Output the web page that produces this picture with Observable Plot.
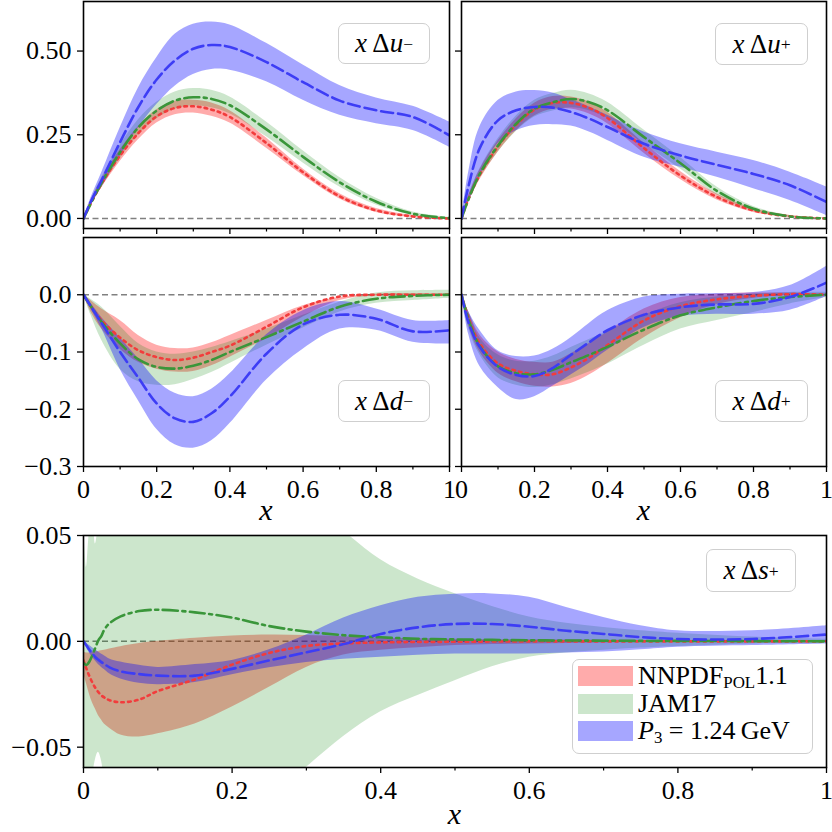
<!DOCTYPE html>
<html><head><meta charset="utf-8">
<script src="https://cdn.jsdelivr.net/npm/d3@7"></script>
<script src="https://cdn.jsdelivr.net/npm/@observablehq/plot@0.6"></script>
<style>
body{margin:0;background:#fff;}
#chart{position:relative;width:832px;height:832px;overflow:hidden;font-family:"Liberation Serif",serif;color:#000;}
#chart svg{position:absolute;left:0;top:0;}
#chart svg text{font-family:"Liberation Serif",serif !important;font-size:26px !important;font-variant:normal !important;}
.box{position:absolute;box-sizing:border-box;border:1.5px solid #cfcfcf;border-radius:7px;background:rgba(255,255,255,0.8);display:flex;align-items:center;justify-content:center;font-size:27px;white-space:nowrap;line-height:1;}
.xl{position:absolute;font-style:italic;font-size:30px;line-height:30px;height:30px;width:40px;margin-left:-20px;text-align:center;}
.leg{position:absolute;box-sizing:border-box;border:1.5px solid #cfcfcf;border-radius:7px;background:rgba(255,255,255,0.8);}
.sw{position:absolute;width:55px;height:20px;}
.lt{position:absolute;font-size:26px;line-height:22px;height:22px;white-space:nowrap;transform:translateY(-50%);}
sub{font-size:65%;vertical-align:-0.25em;line-height:0;}
sup{font-size:65%;vertical-align:0.55em;line-height:0;}
</style></head><body><div id="chart"></div><script>
// ---------- data ----------
const X = [0, 0.02, 0.05, 0.1, 0.15, 0.2, 0.25, 0.3, 0.35, 0.4, 0.5, 0.6, 0.7, 0.8, 0.9, 1.0];
const X5 = [0, 0.004, 0.008, 0.012, 0.016, 0.02, 0.024, 0.028, 0.035, 0.05, 0.075, 0.1, 0.15, 0.2, 0.25, 0.3, 0.35, 0.4, 0.45, 0.5, 0.55, 0.6, 0.65, 0.7, 0.75, 0.8, 0.9, 1.0];

// x Δu-
const um_nn_c  = [0, 0.045, 0.105, 0.188, 0.255, 0.305, 0.330, 0.335, 0.325, 0.303, 0.225, 0.138, 0.066, 0.024, 0.006, 0];
const um_nn_lo = [0, 0.038, 0.092, 0.170, 0.235, 0.285, 0.310, 0.315, 0.305, 0.285, 0.210, 0.128, 0.058, 0.018, 0.003, 0];
const um_nn_hi = [0, 0.052, 0.118, 0.205, 0.275, 0.325, 0.350, 0.353, 0.345, 0.322, 0.240, 0.148, 0.074, 0.030, 0.009, 0.001];
const um_jam_c  = [0, 0.045, 0.108, 0.198, 0.272, 0.322, 0.352, 0.362, 0.357, 0.338, 0.266, 0.184, 0.108, 0.050, 0.014, 0.001];
const um_jam_lo = [0, 0.037, 0.093, 0.178, 0.249, 0.297, 0.326, 0.336, 0.331, 0.313, 0.244, 0.166, 0.094, 0.040, 0.009, 0];
const um_jam_hi = [0, 0.053, 0.123, 0.218, 0.295, 0.347, 0.378, 0.388, 0.383, 0.363, 0.288, 0.202, 0.122, 0.060, 0.019, 0.003];
const um_lat_c  = [0, 0.050, 0.115, 0.228, 0.333, 0.415, 0.472, 0.507, 0.518, 0.512, 0.467, 0.407, 0.352, 0.323, 0.303, 0.248];
const um_lat_lo = [0, 0.040, 0.093, 0.185, 0.270, 0.340, 0.395, 0.430, 0.445, 0.443, 0.408, 0.353, 0.308, 0.283, 0.263, 0.213];
const um_lat_hi = [0, 0.060, 0.137, 0.270, 0.390, 0.480, 0.550, 0.580, 0.587, 0.578, 0.523, 0.458, 0.397, 0.360, 0.335, 0.288];

// x Δu+
const up_nn_c  = [0, 0.060, 0.130, 0.215, 0.280, 0.325, 0.345, 0.345, 0.330, 0.300, 0.210, 0.128, 0.064, 0.024, 0.006, 0];
const up_nn_lo = [0, 0.050, 0.115, 0.198, 0.262, 0.306, 0.326, 0.327, 0.312, 0.283, 0.195, 0.116, 0.055, 0.018, 0.003, 0];
const up_nn_hi = [0, 0.070, 0.145, 0.232, 0.298, 0.344, 0.364, 0.363, 0.348, 0.317, 0.225, 0.140, 0.073, 0.030, 0.009, 0.001];
const up_jam_c  = [0, 0.060, 0.133, 0.218, 0.283, 0.328, 0.347, 0.357, 0.347, 0.323, 0.243, 0.165, 0.082, 0.029, 0.006, 0];
const up_jam_lo = [0, 0.050, 0.118, 0.198, 0.260, 0.303, 0.321, 0.331, 0.322, 0.299, 0.222, 0.148, 0.070, 0.022, 0.003, 0];
const up_jam_hi = [0, 0.070, 0.148, 0.238, 0.306, 0.353, 0.373, 0.383, 0.372, 0.347, 0.264, 0.182, 0.094, 0.036, 0.009, 0.001];
const up_lat_c  = [0, 0.100, 0.210, 0.293, 0.323, 0.333, 0.331, 0.318, 0.298, 0.273, 0.223, 0.188, 0.160, 0.133, 0.099, 0.049];
const up_lat_lo = [0, 0.050, 0.125, 0.223, 0.262, 0.278, 0.280, 0.276, 0.258, 0.233, 0.183, 0.153, 0.123, 0.089, 0.054, 0.009];
const up_lat_hi = [0, 0.140, 0.273, 0.352, 0.378, 0.382, 0.375, 0.355, 0.333, 0.308, 0.258, 0.223, 0.198, 0.173, 0.138, 0.094];

// x Δd-
const dm_nn_c  = [0, -0.020, -0.045, -0.075, -0.097, -0.109, -0.114, -0.110, -0.100, -0.089, -0.056, -0.022, -0.003, 0, 0, 0];
const dm_nn_lo = [0, -0.030, -0.060, -0.095, -0.118, -0.130, -0.135, -0.134, -0.124, -0.109, -0.077, -0.039, -0.010, -0.002, -0.001, 0];
const dm_nn_hi = [0, -0.010, -0.025, -0.045, -0.071, -0.088, -0.094, -0.093, -0.084, -0.071, -0.045, -0.019, -0.005, 0.001, 0.002, 0.001];
const dm_jam_c  = [0, -0.020, -0.048, -0.085, -0.113, -0.126, -0.129, -0.124, -0.114, -0.100, -0.074, -0.047, -0.021, -0.007, -0.002, 0];
const dm_jam_lo = [0, -0.035, -0.080, -0.130, -0.152, -0.158, -0.157, -0.148, -0.136, -0.120, -0.088, -0.058, -0.030, -0.015, -0.010, -0.006];
const dm_jam_hi = [0, -0.008, -0.022, -0.055, -0.085, -0.100, -0.104, -0.100, -0.092, -0.082, -0.060, -0.036, -0.013, 0.003, 0.007, 0.008];
const dm_lat_c  = [0, -0.020, -0.050, -0.100, -0.145, -0.190, -0.216, -0.222, -0.207, -0.178, -0.103, -0.052, -0.035, -0.042, -0.064, -0.062];
const dm_lat_lo = [0, -0.025, -0.060, -0.130, -0.185, -0.235, -0.262, -0.268, -0.255, -0.225, -0.149, -0.095, -0.060, -0.062, -0.083, -0.086];
const dm_lat_hi = [0, -0.015, -0.040, -0.075, -0.112, -0.150, -0.172, -0.178, -0.165, -0.138, -0.070, -0.028, -0.012, -0.025, -0.045, -0.045];

// x Δd+
const dp_nn_c  = [0, -0.042, -0.085, -0.120, -0.133, -0.139, -0.139, -0.127, -0.110, -0.088, -0.045, -0.020, -0.008, -0.002, 0.001, 0];
const dp_nn_lo = [0, -0.055, -0.100, -0.137, -0.152, -0.160, -0.161, -0.155, -0.140, -0.120, -0.075, -0.040, -0.017, -0.006, -0.001, 0];
const dp_nn_hi = [0, -0.030, -0.070, -0.100, -0.113, -0.118, -0.118, -0.103, -0.085, -0.065, -0.025, -0.005, 0.001, 0.003, 0.003, 0.001];
const dp_jam_c  = [0, -0.045, -0.090, -0.125, -0.137, -0.139, -0.131, -0.118, -0.105, -0.091, -0.061, -0.036, -0.022, -0.011, -0.004, 0];
const dp_jam_lo = [0, -0.060, -0.105, -0.145, -0.158, -0.162, -0.157, -0.147, -0.135, -0.121, -0.088, -0.060, -0.045, -0.031, -0.016, -0.005];
const dp_jam_hi = [0, -0.030, -0.075, -0.105, -0.116, -0.116, -0.107, -0.092, -0.078, -0.064, -0.036, -0.014, -0.004, 0.001, 0.004, 0.004];
const dp_lat_c  = [0, -0.050, -0.091, -0.126, -0.140, -0.142, -0.128, -0.105, -0.083, -0.062, -0.035, -0.022, -0.017, -0.016, -0.004, 0.021];
const dp_lat_lo = [0, -0.070, -0.125, -0.162, -0.183, -0.178, -0.160, -0.140, -0.120, -0.097, -0.057, -0.038, -0.034, -0.034, -0.027, -0.003];
const dp_lat_hi = [0, -0.030, -0.062, -0.098, -0.108, -0.107, -0.095, -0.075, -0.050, -0.028, -0.004, 0.001, 0.002, 0.004, 0.016, 0.050];

// x Δs+
const sp_nn_c  = [-0.009, -0.013, -0.0165, -0.0195, -0.022, -0.024, -0.0255, -0.0265, -0.0278, -0.0288, -0.0275, -0.0235, -0.018, -0.011, -0.0055, -0.0022, -0.001, -0.0005, -0.0003, -0.0002, -0.0001, 0, 0, 0, 0, 0, 0, 0];
const sp_nn_lo = [-0.015, -0.020, -0.025, -0.029, -0.032, -0.035, -0.037, -0.039, -0.041, -0.0442, -0.0452, -0.0437, -0.039, -0.031, -0.0217, -0.0123, -0.0065, -0.0042, -0.003, -0.002, -0.0015, -0.0012, -0.001, -0.0008, -0.0006, -0.0005, -0.0003, -0.0002];
const sp_nn_hi = [-0.005, -0.0055, -0.0055, -0.0052, -0.005, -0.0048, -0.0045, -0.0042, -0.0036, -0.0025, -0.001, 0, 0.0015, 0.0025, 0.003, 0.0028, 0.0022, 0.0016, 0.0012, 0.001, 0.0008, 0.0007, 0.0006, 0.0005, 0.0004, 0.0003, 0.0002, 0.0002];
const sp_jam_c  = [-0.0102, -0.0112, -0.0095, -0.0065, -0.003, 0.0005, 0.0025, 0.0055, 0.0085, 0.0118, 0.0143, 0.0149, 0.0137, 0.0112, 0.0072, 0.0046, 0.0029, 0.0019, 0.0012, 0.0009, 0.0007, 0.0005, 0.0004, 0.0003, 0.0002, 0.0002, 0.0001, 0];
const sp_jam_lo = [-0.075, -0.080, -0.075, -0.065, -0.056, -0.0524, -0.056, -0.066, -0.078, -0.090, -0.098, -0.100, -0.096, -0.086, -0.073, -0.0595, -0.045, -0.0333, -0.0256, -0.0186, -0.012, -0.0075, -0.0055, -0.0042, -0.0032, -0.0024, -0.0012, -0.0005];
const sp_jam_hi = [0.060, 0.035, 0.052, 0.060, 0.046, 0.055, 0.065, 0.072, 0.082, 0.093, 0.100, 0.102, 0.098, 0.089, 0.077, 0.065, 0.052, 0.0385, 0.0295, 0.0225, 0.0165, 0.0115, 0.0085, 0.0065, 0.005, 0.0038, 0.002, 0.001];
const sp_lat_c  = [0, -0.002, -0.004, -0.0058, -0.0075, -0.0087, -0.0098, -0.0107, -0.0123, -0.0142, -0.0155, -0.0162, -0.0162, -0.013, -0.009, -0.0052, -0.0013, 0.0035, 0.0066, 0.0082, 0.0082, 0.0069, 0.005, 0.0035, 0.002, 0.0011, 0.0011, 0.0032];
const sp_lat_lo = [-0.0005, -0.003, -0.0055, -0.0075, -0.0093, -0.011, -0.0122, -0.0133, -0.0153, -0.0178, -0.0198, -0.0205, -0.0195, -0.0158, -0.0125, -0.010, -0.0085, -0.0075, -0.0066, -0.006, -0.006, -0.006, -0.0055, -0.005, -0.004, -0.0028, -0.002, -0.0012];
const sp_lat_hi = [0.0005, -0.001, -0.002, -0.003, -0.004, -0.005, -0.006, -0.0068, -0.0083, -0.0098, -0.0113, -0.0123, -0.011, -0.009, -0.004, 0.003, 0.011, 0.0168, 0.0208, 0.0223, 0.0224, 0.0208, 0.016, 0.0113, 0.0074, 0.005, 0.005, 0.0074];

const xMajor = [0, 0.2, 0.4, 0.6, 0.8, 1];
const xMinor = [0.1, 0.3, 0.5, 0.7, 0.9];
const yTicksU = [0, 0.25, 0.5];
const yTicksD = [-0.3, -0.2, -0.1, 0];
const yTicksS = [-0.05, 0, 0.05];

// ---------- styles ----------
const SETS = [
  {key: "nn",  fill: "#ff0000", fo: 0.33, stroke: "#f23c3c", dash: "2.6,4.2"},
  {key: "jam", fill: "#008000", fo: 0.20, stroke: "#3a963a", dash: "15,4.5,3,4.5"},
  {key: "lat", fill: "#0000ff", fo: 0.35, stroke: "#3d3df5", dash: "12,5"}
];

const minus = s => s.replace("-", "\u2212");
const fmtX = d => d === 0 ? "0" : d === 1 ? "1" : d.toFixed(1);

function rows(xs, lo, c, hi) { return xs.map((x, i) => ({x, lo: lo[i], c: c[i], hi: hi[i]})); }

function panel(o) {
  const marks = [Plot.ruleY([0], {stroke: "#808080", strokeWidth: 1.5, strokeDasharray: "6,3.5"})];
  const data = SETS.map(s => rows(o.xs, o.d[s.key][0], o.d[s.key][1], o.d[s.key][2]));
  SETS.forEach((s, i) => marks.push(Plot.areaY(data[i], {x: "x", y1: "lo", y2: "hi", fill: s.fill, fillOpacity: s.fo, curve: "catmull-rom", clip: true})));
  SETS.forEach((s, i) => marks.push(Plot.line(data[i], {x: "x", y: "c", stroke: s.stroke, strokeWidth: 2.6, strokeDasharray: s.dash, curve: "catmull-rom", clip: true})));
  marks.push(Plot.axisX(xMajor, {anchor: "bottom", tickSize: 6, tickPadding: 7, strokeWidth: 1.3, tickFormat: o.xLabels ? fmtX : () => "", label: null}));
  marks.push(Plot.axisX(xMinor, {anchor: "bottom", tickSize: 3.5, strokeWidth: 1.2, tickFormat: () => "", label: null}));
  marks.push(Plot.axisY(o.yTicks, {anchor: "left", tickSize: 6, tickPadding: 6, strokeWidth: 1.3, tickFormat: o.yLabels ? o.yFmt : () => "", label: null}));
  marks.push(Plot.frame({stroke: "black", strokeWidth: 1.6}));
  return Plot.plot({
    width: 832, height: 832,
    marginLeft: o.l, marginRight: 832 - o.r, marginTop: o.t, marginBottom: 832 - o.b,
    x: {domain: [0, 1], label: null},
    y: {domain: o.yDomain, label: null},
    style: {background: "transparent", fontFamily: "'Liberation Serif', serif", fontSize: "26px", overflow: "visible", color: "black"},
    marks
  });
}

const chart = document.getElementById("chart");
const fU = d => d.toFixed(2);
const fD = d => minus(d.toFixed(1));
const fS = d => minus(d.toFixed(2));

const panels = [
  {xs: X, l: 83, r: 449, t: 1, b: 228, yDomain: [-0.03, 0.648], yTicks: yTicksU, yFmt: fU, yLabels: true, xLabels: false,
   d: {nn: [um_nn_lo, um_nn_c, um_nn_hi], jam: [um_jam_lo, um_jam_c, um_jam_hi], lat: [um_lat_lo, um_lat_c, um_lat_hi]}},
  {xs: X, l: 461, r: 826, t: 1, b: 228, yDomain: [-0.03, 0.648], yTicks: yTicksU, yFmt: fU, yLabels: false, xLabels: false,
   d: {nn: [up_nn_lo, up_nn_c, up_nn_hi], jam: [up_jam_lo, up_jam_c, up_jam_hi], lat: [up_lat_lo, up_lat_c, up_lat_hi]}},
  {xs: X, l: 83, r: 449, t: 237, b: 466, yDomain: [-0.3, 0.1], yTicks: yTicksD, yFmt: fD, yLabels: true, xLabels: true,
   d: {nn: [dm_nn_lo, dm_nn_c, dm_nn_hi], jam: [dm_jam_lo, dm_jam_c, dm_jam_hi], lat: [dm_lat_lo, dm_lat_c, dm_lat_hi]}},
  {xs: X, l: 461, r: 826, t: 237, b: 466, yDomain: [-0.3, 0.1], yTicks: yTicksD, yFmt: fD, yLabels: false, xLabels: true,
   d: {nn: [dp_nn_lo, dp_nn_c, dp_nn_hi], jam: [dp_jam_lo, dp_jam_c, dp_jam_hi], lat: [dp_lat_lo, dp_lat_c, dp_lat_hi]}},
  {xs: X5, l: 83, r: 826, t: 535, b: 767, yDomain: [-0.0596, 0.05], yTicks: yTicksS, yFmt: fS, yLabels: true, xLabels: true,
   d: {nn: [sp_nn_lo, sp_nn_c, sp_nn_hi], jam: [sp_jam_lo, sp_jam_c, sp_jam_hi], lat: [sp_lat_lo, sp_lat_c, sp_lat_hi]}}
];
panels.forEach(p => chart.appendChild(panel(p)));

// ---------- annotations ----------
function el(cls, css, html) {
  const e = document.createElement("div");
  e.className = cls; Object.assign(e.style, css); e.innerHTML = html; chart.appendChild(e); return e;
}
const boxes = [
  [338, 23, 92, 41, "<i>x</i>&#8201;Δ<i>u</i><sup>−</sup>"],
  [715, 23, 93, 42, "<i>x</i>&#8201;Δ<i>u</i><sup>+</sup>"],
  [338, 380, 92, 42, "<i>x</i>&#8201;Δ<i>d</i><sup>−</sup>"],
  [715, 380, 93, 42, "<i>x</i>&#8201;Δ<i>d</i><sup>+</sup>"],
  [706, 549, 90, 43, "<i>x</i>&#8201;Δ<i>s</i><sup>+</sup>"]
];
boxes.forEach(([l, t, w, h, html]) => el("box", {left: l + "px", top: t + "px", width: w + "px", height: h + "px"}, html));

[[266, 495], [643.5, 495], [454.5, 799]].forEach(([x, y]) => el("xl", {left: x + "px", top: y + "px"}, "x"));

el("leg", {left: "572px", top: "659px", width: "241px", height: "95px"}, "");
const legend = [
  ["rgba(255,0,0,0.33)", 666, "NNPDF<sub>POL</sub>1.1"],
  ["rgba(0,128,0,0.20)", 694, "JAM17"],
  ["rgba(0,0,255,0.35)", 721, "<i>P</i><sub>3</sub> = 1.24&#8201;GeV"]
];
legend.forEach(([c, t, html]) => {
  el("sw", {left: "578px", top: t + "px", background: c}, "");
  el("lt", {left: "638px", top: (t + 10) + "px"}, html);
});
</script></body></html>
